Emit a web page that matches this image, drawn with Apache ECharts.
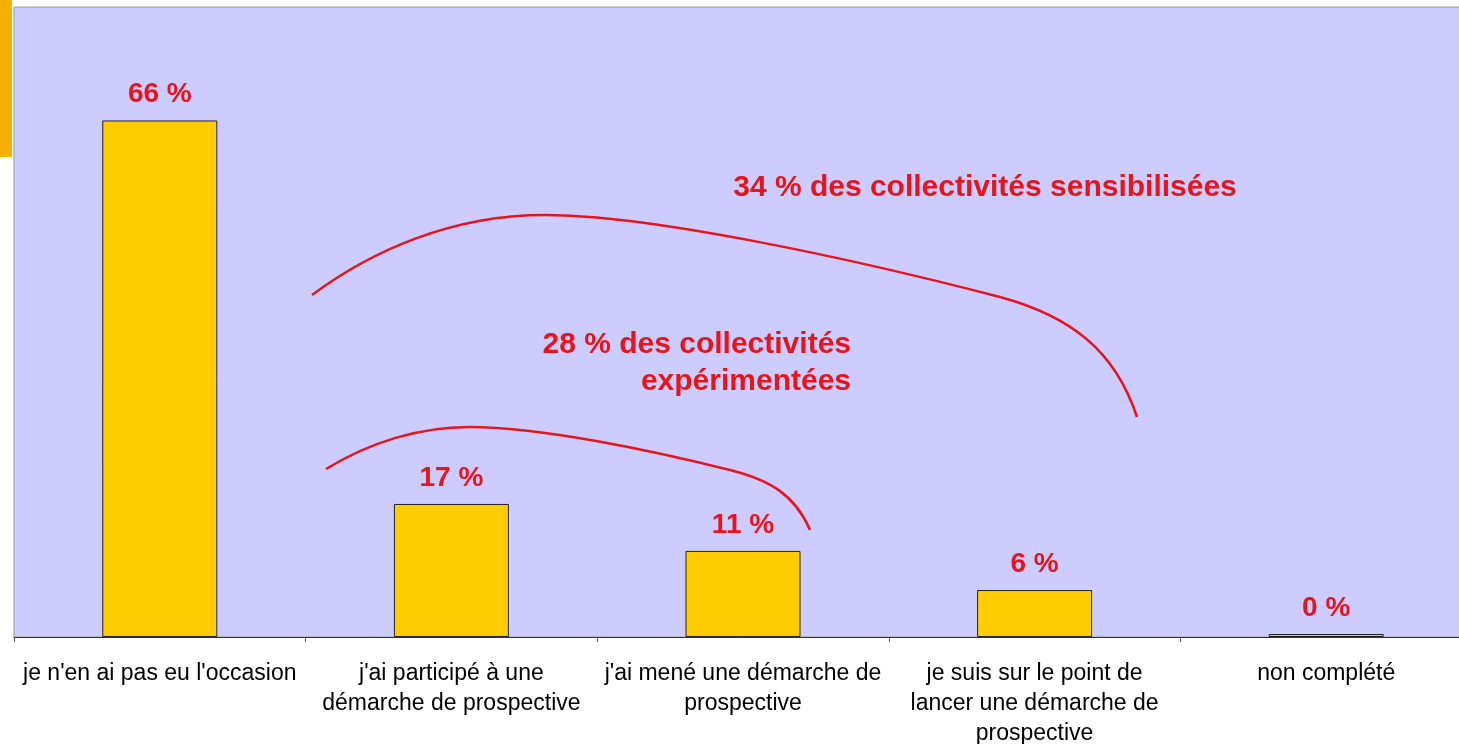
<!DOCTYPE html>
<html>
<head>
<meta charset="utf-8">
<script src="https://cdn.jsdelivr.net/npm/echarts@6/dist/echarts.min.js"></script>
<style>
  html, body { margin: 0; padding: 0; background: #fff; }
  #chart { width: 1459px; height: 744px; }
</style>
</head>
<body>
<div id="chart"></div>
<script>
const categories = [
    "je n'en ai pas eu l'occasion",
    "j'ai participé à une\ndémarche de prospective",
    "j'ai mené une démarche de\nprospective",
    "je suis sur le point de\nlancer une démarche de\nprospective",
    "non complété"
];
const values = [66, 17, 11, 6, 0];

// annotation arcs drawn over the bars (page pixels), cubic segments
const arcSensibilisees = [
    { x1: 312, y1: 295, cpx1: 370, cpy1: 252, cpx2: 450, cpy2: 215, x2: 545, y2: 215 },
    { x1: 545, y1: 215, cpx1: 650, cpy1: 215, cpx2: 850, cpy2: 258, x2: 1000, y2: 297 },
    { x1: 1000, y1: 297, cpx1: 1070, cpy1: 316, cpx2: 1115, cpy2: 350, x2: 1137, y2: 417 }
];
const arcExperimentees = [
    { x1: 326, y1: 469, cpx1: 370, cpy1: 442, cpx2: 420, cpy2: 427, x2: 469, y2: 427 },
    { x1: 469, y1: 427, cpx1: 540, cpy1: 427, cpx2: 650, cpy2: 450, x2: 730, y2: 470 },
    { x1: 730, y1: 470, cpx1: 770, cpy1: 480, cpx2: 795, cpy2: 495, x2: 810, y2: 530 }
];

const red = '#e8141b';
const font = 'Liberation Sans, Arial, sans-serif';

const arcStyle = { stroke: red, lineWidth: 2.5, fill: null };
const arcs = arcSensibilisees.concat(arcExperimentees).map(seg => ({
    type: 'bezierCurve',
    shape: seg,
    style: arcStyle,
    z: 10
}));

const myChart = echarts.init(document.getElementById('chart'));

const option = {
    backgroundColor: '#fff',
    animation: false,
    grid: {
        left: 14,
        top: 7,
        width: 1458,
        height: 630,
        outerBoundsMode: 'none',
        containLabel: false,
        show: true,
        backgroundColor: '#ccccff',
        borderColor: '#9a9a9a',
        borderWidth: 1
    },
    xAxis: {
        type: 'category',
        data: categories,
        axisLine: { lineStyle: { color: '#333', width: 1 } },
        axisTick: { show: true, length: 5, lineStyle: { color: '#555' } },
        axisLabel: {
            interval: 0,
            margin: 22,
            fontFamily: font,
            fontSize: 23,
            lineHeight: 30,
            color: '#000',
            align: 'center'
        }
    },
    yAxis: {
        type: 'value',
        min: 0,
        max: 80.5,
        show: false,
        splitLine: { show: false }
    },
    series: [{
        type: 'bar',
        data: values,
        barWidth: 115,
        barMinHeight: 3,
        itemStyle: {
            color: '#ffcc00',
            borderColor: '#222',
            borderWidth: 1
        },
        label: {
            show: true,
            position: 'top',
            distance: 12,
            formatter: '{c} %',
            fontFamily: font,
            fontWeight: 'bold',
            fontSize: 28,
            color: red
        }
    }],
    graphic: [
        {
            type: 'rect',
            shape: { x: 0, y: 0, width: 12, height: 157 },
            style: { fill: '#f5b000' },
            z: 10
        },
        ...arcs,
        {
            type: 'text',
            x: 985,
            y: 188,
            style: {
                text: '34 % des collectivités sensibilisées',
                font: 'bold 30px ' + font,
                fill: red,
                align: 'center',
                verticalAlign: 'middle'
            },
            z: 10
        },
        {
            type: 'text',
            x: 851,
            y: 363,
            style: {
                text: '28 % des collectivités\nexpérimentées',
                font: 'bold 30px ' + font,
                lineHeight: 37,
                fill: red,
                align: 'right',
                verticalAlign: 'middle'
            },
            z: 10
        }
    ]
};

myChart.setOption(option);
window.addEventListener('resize', () => myChart.resize());
</script>
</body>
</html>
